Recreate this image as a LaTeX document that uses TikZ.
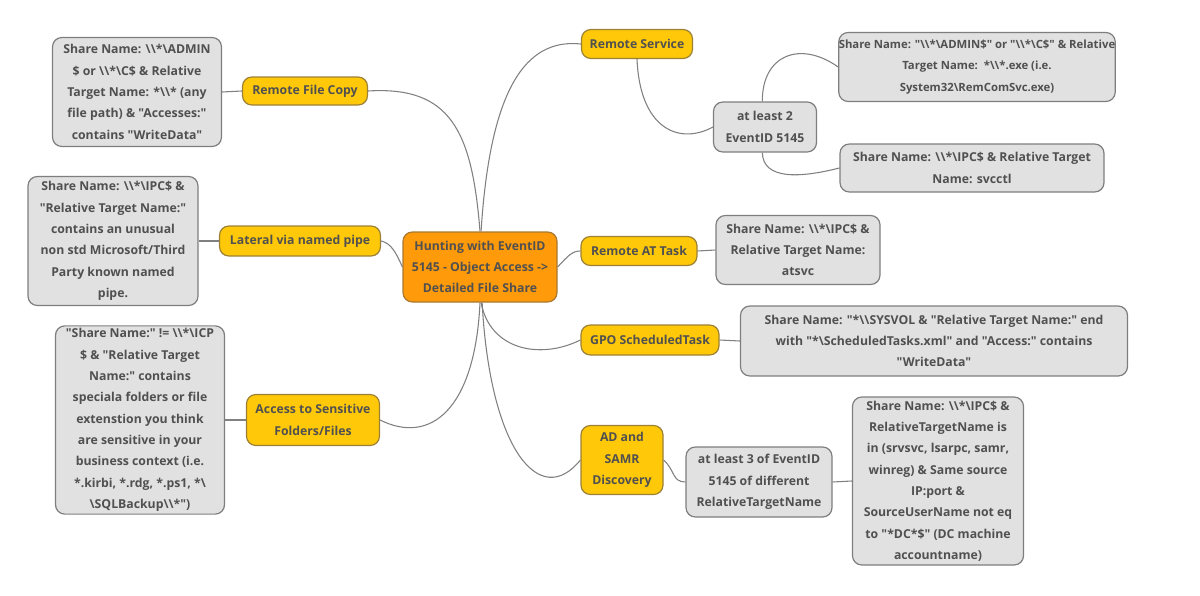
\documentclass[tikz,border=0pt]{standalone}
\usepackage{fontspec}
\setmainfont{Open Sans}[Ligatures=TeXOff]
\newcommand{\bs}{\textbackslash}
\definecolor{txt}{HTML}{505050}
\definecolor{hubfill}{HTML}{FF9A0A}
\definecolor{hubline}{HTML}{A87830}
\definecolor{topfill}{HTML}{FFC808}
\definecolor{topline}{HTML}{9C8036}
\definecolor{leaffill}{HTML}{E1E1E1}
\definecolor{leafline}{HTML}{7E7E7E}
\definecolor{wire}{HTML}{808080}
\tikzset{
  box/.style={draw, rounded corners=7pt, line width=0.9pt, align=center, inner sep=2pt,
    text=txt, font=\fontsize{9.2}{16}\selectfont\bfseries},
  hub/.style={box, fill=hubfill, draw=hubline},
  topic/.style={box, fill=topfill, draw=topline},
  leaf/.style={box, fill=leaffill, draw=leafline},
  sz/.style 2 args={minimum width=#1*0.75pt, minimum height=#2*0.75pt},
  wire/.style={draw=wire, line width=0.8pt}
}
\begin{document}
\begin{tikzpicture}[x=0.75pt, y=-0.75pt]
  \useasboundingbox (0,0) rectangle (1200,596);

  \node[hub, sz={154}{70}] (hub) at (480,267) {Hunting with EventID\\5145 - Object Access ->\\Detailed File Share};

  \node[topic, sz={125}{28}] (rfc) at (305,91) {Remote File Copy};
  \node[leaf, sz={169}{109}] (rfcd) at (137,92) {Share Name: \bs\bs*\bs ADMIN\\\$ or \bs\bs*\bs C\$ \& Relative\\Target Name: *\bs\bs* (any\\file path) \& "Accesses:"\\contains "WriteData"};

  \node[topic, sz={161}{30}] (pipe) at (300,241) {Lateral via named pipe};
  \node[leaf, sz={170}{129}] (piped) at (113,241) {Share Name: \bs\bs*\bs IPC\$ \&\\"Relative Target Name:"\\contains an unusual\\non std Microsoft/Third\\Party known named\\pipe.};

  \node[topic, sz={133}{51}] (sens) at (313,420) {Access to Sensitive\\Folders/Files};
  \node[leaf, sz={169}{187}] (sensd) at (140,420) {"Share Name:" != \bs\bs*\bs ICP\\\$ \& "Relative Target\\Name:" contains\\speciala folders or file\\extenstion you think\\are sensitive in your\\business context (i.e.\\*.kirbi, *.rdg, *.ps1, *\bs\\\bs SQLBackup\bs\bs*")};

  \node[topic, sz={111}{29}] (rsvc) at (637,44) {Remote Service};
  \node[leaf, sz={103}{50}] (two) at (765,127) {at least 2\\EventID 5145};
  \node[leaf, sz={274}{69}, inner xsep=0pt, font=\fontsize{8.5}{16}\selectfont\bfseries] (admin) at (977,67) {Share Name: "\bs\bs*\bs ADMIN\$" or "\bs\bs*\bs C\$" \& Relative\\Target Name:\ \ *\bs\bs*.exe (i.e.\\System32\bs RemComSvc.exe)};
  \node[leaf, sz={264}{48}] (svcctl) at (972,168) {Share Name: \bs\bs*\bs IPC\$ \& Relative Target\\Name: svcctl};

  \node[topic, sz={116}{29}] (at) at (639,251) {Remote AT Task};
  \node[leaf, sz={164}{69}] (atd) at (798,250) {Share Name: \bs\bs*\bs IPC\$ \&\\Relative Target Name:\\atsvc};

  \node[topic, sz={138}{30}] (gpo) at (650,340) {GPO ScheduledTask};
  \node[leaf, sz={387}{70}] (gpod) at (934,341) {Share Name: "*\bs\bs SYSVOL \& "Relative Target Name:" end\\with "*\bs ScheduledTasks.xml" and "Access:" contains\\"WriteData"};

  \node[topic, sz={82}{69}] (samr) at (622,460) {AD and\\SAMR\\Discovery};
  \node[leaf, sz={146}{70}] (three) at (759,482) {at least 3 of EventID\\5145 of different\\RelativeTargetName};
  \node[leaf, sz={171}{168}] (samrd) at (938,481) {Share Name: \bs\bs*\bs IPC\$ \&\\RelativeTargetName is\\in (srvsvc, lsarpc, samr,\\winreg) \& Same source\\IP:port \&\\SourceUserName not eq\\to "*DC*\$" (DC machine\\accountname)};

  % branches from the hub
  \draw[wire] (hub.north) .. controls (472,130) and (450,86) .. (rfc.east);
  \draw[wire] ([xshift=0.8pt]hub.north) .. controls (490,90) and (525,38) .. (rsvc.west);
  \draw[wire] (hub.west) .. controls (395,250) and (390,243) .. (pipe.east);
  \draw[wire] (hub.east) .. controls (568,256) and (572,251) .. (at.west);
  \draw[wire] (hub.south) .. controls (475,410) and (430,445) .. (sens.east);
  \draw[wire] ([xshift=0.8pt]hub.south) .. controls (490,350) and (540,360) .. (gpo.west);
  \draw[wire] ([xshift=1.6pt]hub.south) .. controls (490,450) and (540,510) .. (samr.west);

  % second level
  \draw[wire] (rfc.west) -- (rfcd.east);
  \draw[wire] (pipe.west) -- (piped.east);
  \draw[wire] (sens.west) -- (sensd.east);
  \draw[wire] (rsvc.south) .. controls (640,130) and (680,145) .. (two.west);
  \draw[wire] ([xshift=-2pt]two.north) .. controls (762,55) and (800,40) .. (admin.west);
  \draw[wire] ([xshift=-2pt]two.south) .. controls (763,180) and (800,178) .. (svcctl.west);
  \draw[wire] (at.east) -- (atd.west);
  \draw[wire] (gpo.east) -- (gpod.west);
  \draw[wire] (samr.east) .. controls (675,470) and (672,482) .. (three.west);
  \draw[wire] (three.east) -- (samrd.west);
\end{tikzpicture}
\end{document}
